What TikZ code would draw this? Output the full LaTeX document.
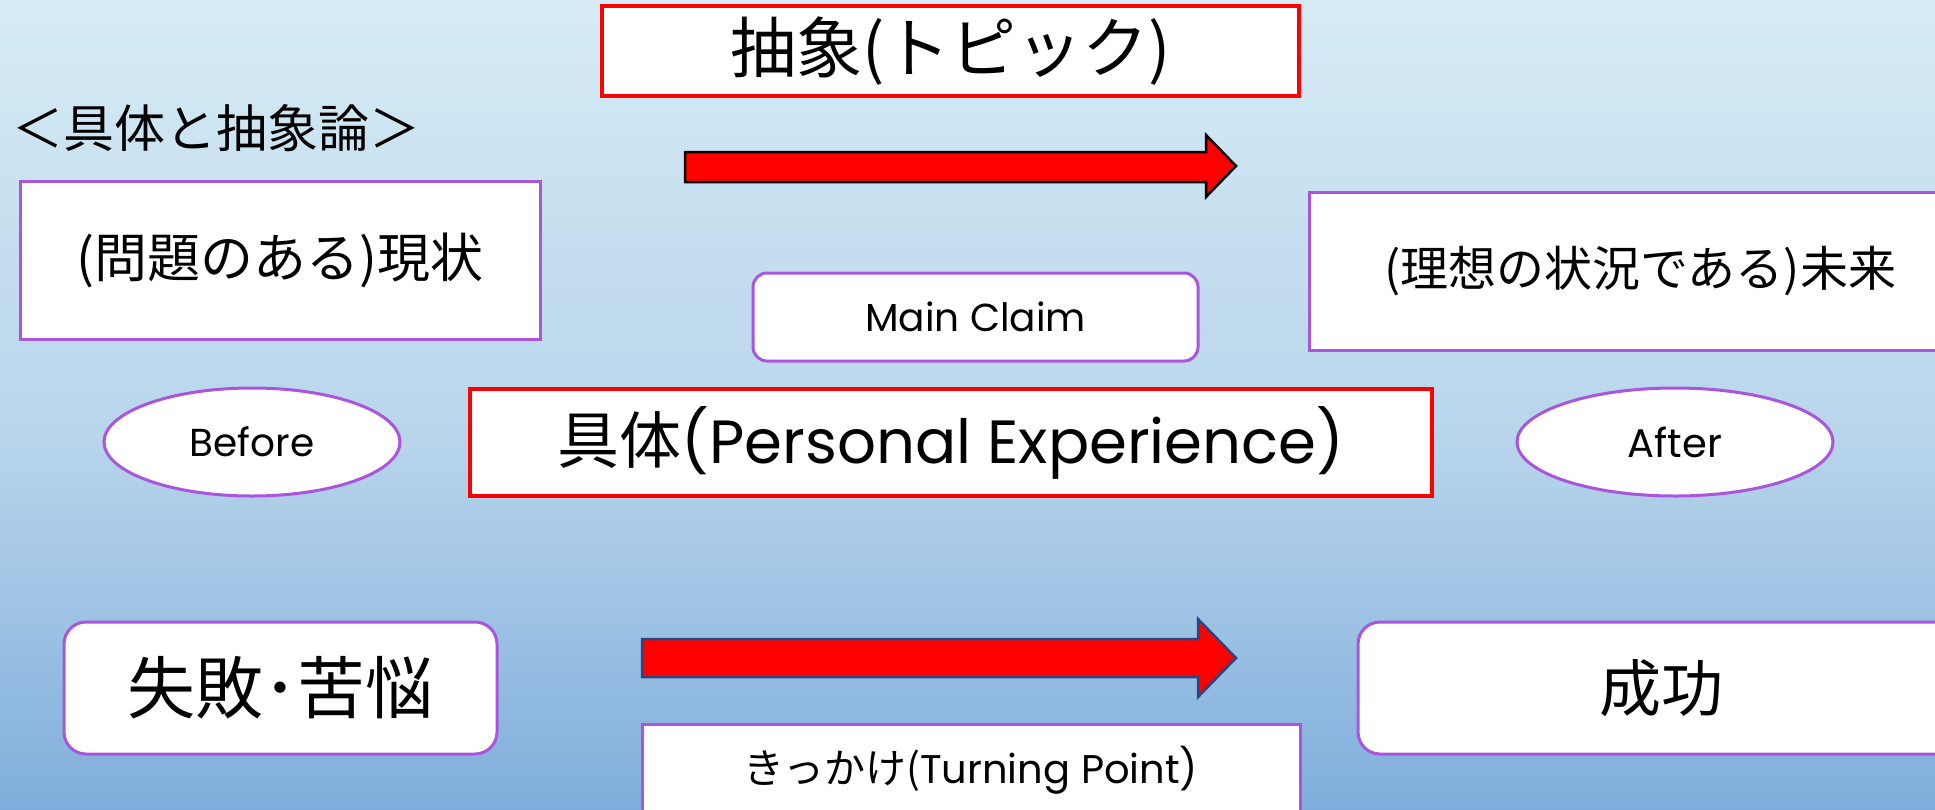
\documentclass[tikz,border=0pt]{standalone}
\usepackage{fontspec}
\setmainfont{Poppins}
\newfontfamily\jp{Noto Sans CJK JP}
\usetikzlibrary{shapes.geometric}
\definecolor{bgtop}{RGB}{214,235,245}
\definecolor{bgmid}{RGB}{184,213,235}
\definecolor{bgbot}{RGB}{128,174,220}
\definecolor{purp}{RGB}{170,85,220}
\definecolor{redb}{RGB}{255,0,0}
\definecolor{navy}{RGB}{40,70,130}
\pgfdeclareverticalshading{bgshade}{100bp}{color(0bp)=(bgbot); color(25bp)=(bgbot); color(48bp)=(bgmid); color(75bp)=(bgtop); color(100bp)=(bgtop)}
\newcommand{\fs}[1]{\fontsize{#1}{#1}\selectfont}
\tikzset{
  redbox/.style={draw=redb, line width=3.5pt, fill=white, inner sep=0pt},
  purpbox/.style={draw=purp, line width=3pt, fill=white, inner sep=0pt},
  purpround/.style={purpbox, rounded corners=18pt},
  purpell/.style={draw=purp, line width=3pt, fill=white, ellipse, inner sep=0pt},
  bigarrow/.style={fill=redb, line width=2.5pt, line join=miter},
}
\begin{document}
\begin{tikzpicture}[x=1pt,y=-1pt]
\clip (0,0) rectangle (1935,809);
\shade[shading=bgshade] (0,0) rectangle (1935,809);
% title
\node[redbox, minimum width=697pt, minimum height=90pt] (title) at (950.5,51) {\jp\fs{66}抽象(トピック)};
% heading
\node[anchor=west, inner sep=0pt] (head) at (12,128) {\jp\fs{51}＜具体と抽象論＞};
% current state
\node[purpbox, minimum width=520pt, minimum height=158pt] (now) at (280,260) {\jp\fs{53}(問題のある)現状};
% future
\node[purpbox, minimum width=662pt, minimum height=158pt] (future) at (1640,271) {\jp\fs{48}(理想の状況である)未来};
% main claim
\node[purpround, rounded corners=14pt, minimum width=445pt, minimum height=88pt] (claim) at (975.5,317) {\fs{39}Main Claim};
% concrete
\node[redbox, minimum width=962pt, minimum height=107pt] (gutai) at (951,442.5) {{\jp\fs{62}具体}\fs{61}(Personal Experience)};
% before / after
\node[purpell, minimum width=296pt, minimum height=108pt] (before) at (252,442) {\fs{39}Before};
\node[purpell, minimum width=316pt, minimum height=108pt] (after) at (1675,442) {\fs{40}After};
% arrows
\draw[bigarrow, draw=black] (685,152) -- (1206,152) -- (1206,135) -- (1236,166) -- (1206,197) -- (1206,182) -- (685,182) -- cycle;
\draw[bigarrow, draw=navy] (642,639) -- (1198,639) -- (1198,619) -- (1236,658) -- (1198,697) -- (1198,677) -- (642,677) -- cycle;
% bottom row
\node[purpround, rounded corners=22pt, minimum width=433pt, minimum height=132pt] (fail) at (280.5,688) {\jp\fs{68}失敗･苦悩};
\node[purpround, rounded corners=22pt, minimum width=607pt, minimum height=132pt] (success) at (1661.5,688) {\jp\fs{62}成功};
\node[purpbox, minimum width=658pt, minimum height=92pt] (turn) at (971,770) {{\jp\fs{41}きっかけ(}\fs{40}Turning Point)};
\end{tikzpicture}
\end{document}
